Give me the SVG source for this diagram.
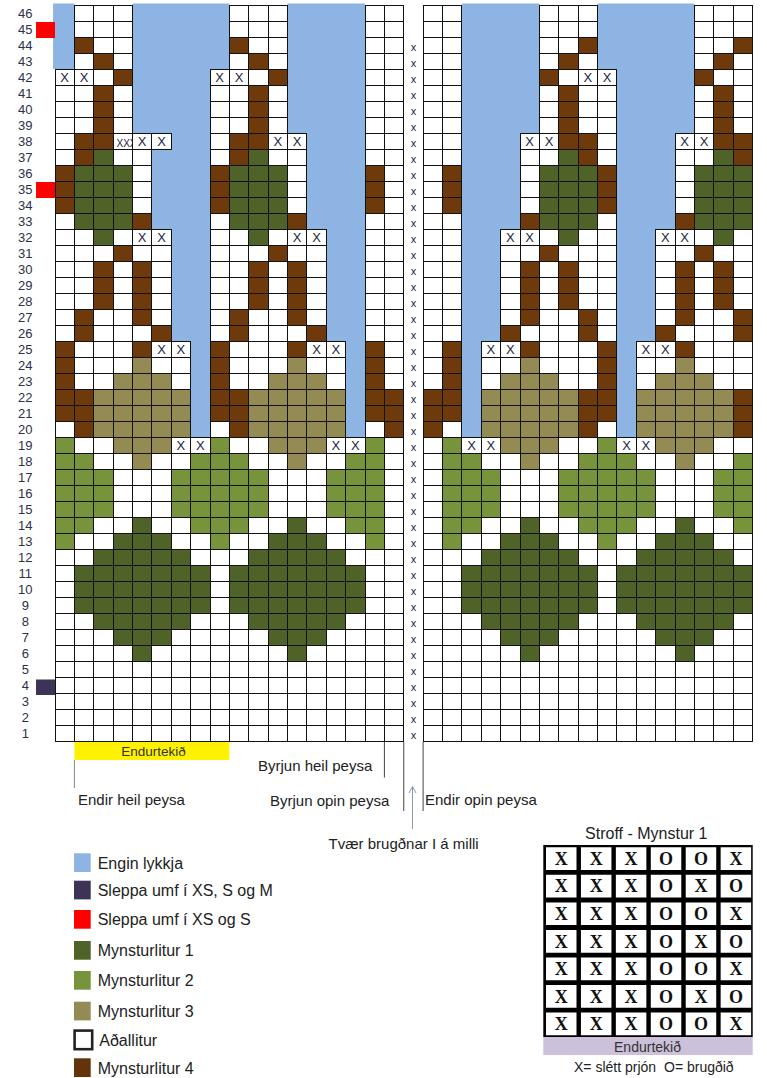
<svg xmlns="http://www.w3.org/2000/svg" width="767" height="1078" viewBox="0 0 767 1078">
<style>
text{font-family:"Liberation Sans",Arial,sans-serif}
.num{font-size:13px;fill:#2b3147;text-anchor:middle}
.xm{font-size:13px;fill:#1b2440;text-anchor:middle}
.gx{font-size:11px;fill:#1b2440;text-anchor:middle}
.lab{font-size:15px;fill:#222}
.leg{font-size:16px;fill:#222}
.st{font-family:"Liberation Serif",serif;font-weight:bold;font-size:18px;fill:#111;text-anchor:middle}
.ann{fill:none;stroke-width:1}
</style>
<defs>
<clipPath id="cx3"><rect x="113.1" y="133" width="19.4" height="16"/></clipPath>
</defs>
<rect width="767" height="1078" fill="#fff"/>
<g id="chart" transform="translate(55 5) scale(19.375 16)">
<rect x="0" y="0" width="18" height="46" fill="#fff"/>
<rect x="19" y="0" width="17" height="46" fill="#fff"/>
<path id="brown" fill="#6f3a0b" d="M1 2h1v1h-1zM9 2h1v1h-1zM35 2h1v1h-1zM27 2h1v1h-1zM2 3h1v1h-1zM10 3h1v1h-1zM34 3h1v1h-1zM26 3h1v1h-1zM3 4h1v1h-1zM11 4h1v1h-1zM33 4h1v1h-1zM25 4h1v1h-1zM2 5h1v4h-1zM10 5h1v4h-1zM34 5h1v4h-1zM26 5h1v4h-1zM1 8h1v2h-1zM9 8h1v2h-1zM35 8h1v2h-1zM27 8h1v2h-1zM0 10h1v3h-1zM8 10h1v3h-1zM16 10h1v3h-1zM28 10h1v3h-1zM20 10h1v3h-1zM4 13h1v1h-1zM12 13h1v1h-1zM32 13h1v1h-1zM24 13h1v1h-1zM3 15h1v1h-1zM11 15h1v1h-1zM33 15h1v1h-1zM25 15h1v1h-1zM2 16h1v3h-1zM10 16h1v3h-1zM34 16h1v3h-1zM26 16h1v3h-1zM4 16h1v4h-1zM12 16h1v4h-1zM32 16h1v4h-1zM24 16h1v4h-1zM1 19h1v2h-1zM9 19h1v2h-1zM35 19h1v2h-1zM27 19h1v2h-1zM5 20h1v1h-1zM13 20h1v1h-1zM31 20h1v1h-1zM23 20h1v1h-1zM4 21h1v1h-1zM12 21h1v1h-1zM32 21h1v1h-1zM24 21h1v1h-1zM0 21h1v5h-1zM8 21h1v5h-1zM16 21h1v5h-1zM28 21h1v5h-1zM20 21h1v5h-1zM1 24h1v3h-1zM9 24h1v3h-1zM17 24h1v3h-1zM27 24h1v3h-1zM35 24h1v3h-1zM19 24h1v3h-1z"/>
<path id="green1" fill="#4f6228" d="M1 10h3v4h-3zM9 10h3v4h-3zM25 10h3v4h-3zM33 10h3v4h-3zM2 9h1v1h-1zM10 9h1v1h-1zM26 9h1v1h-1zM34 9h1v1h-1zM2 14h1v1h-1zM10 14h1v1h-1zM26 14h1v1h-1zM34 14h1v1h-1zM4 32h1v1h1v1h1v1h1v3h-1v1h-1v1h-1v1h-1v-1h-1v-1h-1v-1h-1v-3h1v-1h1v-1h1zM12 32h1v1h1v1h1v1h1v3h-1v1h-1v1h-1v1h-1v-1h-1v-1h-1v-1h-1v-3h1v-1h1v-1h1zM24 32h1v1h1v1h1v1h1v3h-1v1h-1v1h-1v1h-1v-1h-1v-1h-1v-1h-1v-3h1v-1h1v-1h1zM32 32h1v1h1v1h1v1h1v3h-1v1h-1v1h-1v1h-1v-1h-1v-1h-1v-1h-1v-3h1v-1h1v-1h1z"/>
<path id="green2" fill="#77933c" d="M0 27h1v1h1v1h1v3h-1v1h-1v1h-1zM8 27h1v1h1v1h1v3h-1v1h-1v1h-1v-1h-1v-1h-1v-3h1v-1h1zM16 27h1v7h-1v-1h-1v-1h-1v-3h1v-1h1zM20 27h1v1h1v1h1v3h-1v1h-1v1h-1zM28 27h1v1h1v1h1v3h-1v1h-1v1h-1v-1h-1v-1h-1v-3h1v-1h1zM35 28h1v5h-1v-1h-1v-3h1z"/>
<path id="tan" fill="#948a54" d="M4 22h1v1h1v1h1v3h-1v1h-1v1h-1v-1h-1v-1h-1v-3h1v-1h1zM12 22h1v1h1v1h1v3h-1v1h-1v1h-1v-1h-1v-1h-1v-3h1v-1h1zM24 22h1v1h1v1h1v3h-1v1h-1v1h-1v-1h-1v-1h-1v-3h1v-1h1zM32 22h1v1h1v1h1v3h-1v1h-1v1h-1v-1h-1v-1h-1v-3h1v-1h1z"/>
<path id="grid" fill="none" stroke="#111" stroke-width="1" vector-effect="non-scaling-stroke" shape-rendering="crispEdges" d="M0 0V46M1 0V46M2 0V46M3 0V46M4 0V46M5 0V46M6 0V46M7 0V46M8 0V46M9 0V46M10 0V46M11 0V46M12 0V46M13 0V46M14 0V46M15 0V46M16 0V46M17 0V46M18 0V46M19 0V46M20 0V46M21 0V46M22 0V46M23 0V46M24 0V46M25 0V46M26 0V46M27 0V46M28 0V46M29 0V46M30 0V46M31 0V46M32 0V46M33 0V46M34 0V46M35 0V46M36 0V46M0 0H18M19 0H36M0 1H18M19 1H36M0 2H18M19 2H36M0 3H18M19 3H36M0 4H18M19 4H36M0 5H18M19 5H36M0 6H18M19 6H36M0 7H18M19 7H36M0 8H18M19 8H36M0 9H18M19 9H36M0 10H18M19 10H36M0 11H18M19 11H36M0 12H18M19 12H36M0 13H18M19 13H36M0 14H18M19 14H36M0 15H18M19 15H36M0 16H18M19 16H36M0 17H18M19 17H36M0 18H18M19 18H36M0 19H18M19 19H36M0 20H18M19 20H36M0 21H18M19 21H36M0 22H18M19 22H36M0 23H18M19 23H36M0 24H18M19 24H36M0 25H18M19 25H36M0 26H18M19 26H36M0 27H18M19 27H36M0 28H18M19 28H36M0 29H18M19 29H36M0 30H18M19 30H36M0 31H18M19 31H36M0 32H18M19 32H36M0 33H18M19 33H36M0 34H18M19 34H36M0 35H18M19 35H36M0 36H18M19 36H36M0 37H18M19 37H36M0 38H18M19 38H36M0 39H18M19 39H36M0 40H18M19 40H36M0 41H18M19 41H36M0 42H18M19 42H36M0 43H18M19 43H36M0 44H18M19 44H36M0 45H18M19 45H36M0 46H18M19 46H36"/>
<path id="blue" fill="#8db4e2" d="M-0.1 -0.1H1V4H-0.1zM4 -0.1H9V4H8V27H7V21H6V14H5V9H6V8H4zM12 -0.1H16V27H15V21H14V14H13V8H12zM21 -0.1H25V8H24V14H23V21H22V27H21zM28 -0.1H33V8H32V14H31V21H30V27H29V4H28z"/>
<path id="blue-edge" fill="none" stroke="#111" stroke-width="1" vector-effect="non-scaling-stroke" shape-rendering="crispEdges" d="M1 0V4H0M9 0V4H8V27H7V21H6V14H5V9H6V8H4V0M16 0V27H15V21H14V14H13V8H12V0M21 0V27H22V21H23V14H24V8H25V0M28 0V4H29V27H30V21H31V14H32V8H33V0"/>
</g>
<g id="chart-marks">
<text class="xm" x="64.7 84.1 219.7 239.1 587.8 607.2" y="81.6">XXXXXX</text>
<text class="xm" x="142.2 161.6 277.8 297.2 529.7 549.1 684.7 704.1" y="145.6">XXXXXXXX</text>
<text x="116.5" y="146.5" font-size="10" fill="#1b2440" clip-path="url(#cx3)">XXX</text>
<text class="xm" x="142.2 161.6 297.2 316.6 510.3 529.7 665.3 684.7" y="241.6">XXXXXXXX</text>
<text class="xm" x="161.6 180.9 316.6 335.9 490.9 510.3 645.9 665.3" y="353.6">XXXXXXXX</text>
<text class="xm" x="180.9 200.3 335.9 355.3 471.6 490.9 626.6 645.9" y="449.6">XXXXXXXX</text>
<text class="gx" x="413.4 413.4 413.4 413.4 413.4 413.4 413.4 413.4 413.4 413.4 413.4 413.4 413.4 413.4 413.4 413.4 413.4 413.4 413.4 413.4 413.4 413.4 413.4 413.4 413.4 413.4 413.4 413.4 413.4 413.4 413.4 413.4 413.4 413.4 413.4 413.4 413.4 413.4 413.4 413.4 413.4 413.4 413.4 413.4" y="51 67 83 99 115 131 147 163 179 195 211 227 243 259 275 291 307 323 339 355 371 387 403 419 435 451 467 483 499 515 531 547 563 579 595 611 627 643 659 675 691 707 723 739">xxxxxxxxxxxxxxxxxxxxxxxxxxxxxxxxxxxxxxxxxxxx</text>
</g>
<g id="size-markers">
<rect x="36" y="22" width="19" height="16" fill="#ff0000"/>
<rect x="36" y="182" width="19" height="16" fill="#ff0000"/>
<rect x="36" y="679.5" width="19" height="15.5" fill="#3d3356"/>
</g>
<g id="row-numbers">
<text class="num" x="25.3" y="17.5">46</text><text class="num" x="25.3" y="33.5">45</text><text class="num" x="25.3" y="49.5">44</text><text class="num" x="25.3" y="65.5">43</text><text class="num" x="25.3" y="81.5">42</text><text class="num" x="25.3" y="97.5">41</text><text class="num" x="25.3" y="113.5">40</text><text class="num" x="25.3" y="129.5">39</text><text class="num" x="25.3" y="145.5">38</text><text class="num" x="25.3" y="161.5">37</text><text class="num" x="25.3" y="177.5">36</text><text class="num" x="25.3" y="193.5">35</text><text class="num" x="25.3" y="209.5">34</text><text class="num" x="25.3" y="225.5">33</text><text class="num" x="25.3" y="241.5">32</text><text class="num" x="25.3" y="257.5">31</text><text class="num" x="25.3" y="273.5">30</text><text class="num" x="25.3" y="289.5">29</text><text class="num" x="25.3" y="305.5">28</text><text class="num" x="25.3" y="321.5">27</text><text class="num" x="25.3" y="337.5">26</text><text class="num" x="25.3" y="353.5">25</text><text class="num" x="25.3" y="369.5">24</text><text class="num" x="25.3" y="385.5">23</text><text class="num" x="25.3" y="401.5">22</text><text class="num" x="25.3" y="417.5">21</text><text class="num" x="25.3" y="433.5">20</text><text class="num" x="25.3" y="449.5">19</text><text class="num" x="25.3" y="465.5">18</text><text class="num" x="25.3" y="481.5">17</text><text class="num" x="25.3" y="497.5">16</text><text class="num" x="25.3" y="513.5">15</text><text class="num" x="25.3" y="529.5">14</text><text class="num" x="25.3" y="545.5">13</text><text class="num" x="25.3" y="561.5">12</text><text class="num" x="25.3" y="577.5">11</text><text class="num" x="25.3" y="593.5">10</text><text class="num" x="25.3" y="609.5">9</text><text class="num" x="25.3" y="625.5">8</text><text class="num" x="25.3" y="641.5">7</text><text class="num" x="25.3" y="657.5">6</text><text class="num" x="25.3" y="673.5">5</text><text class="num" x="25.3" y="689.5">4</text><text class="num" x="25.3" y="705.5">3</text><text class="num" x="25.3" y="721.5">2</text><text class="num" x="25.3" y="737.5">1</text>
</g>
<g id="annotations">
<rect x="74.4" y="742" width="155" height="18" fill="#fff200"/>
<text x="153.5" y="756" font-size="13.5" fill="#333" text-anchor="middle">Endurtekið</text>
<path class="ann" stroke="#888" d="M74.4 760V788"/>
<path class="ann" stroke="#444" d="M384.4 742V777.5M403.75 742V811M423.1 742V811"/>
<path class="ann" stroke="#8a96b4" d="M412.5 829V787M409 793L412.5 786.5L416 793"/>
<text class="lab" x="78" y="805">Endir heil peysa</text>
<text class="lab" x="258" y="770.5">Byrjun heil peysa</text>
<text class="lab" x="270" y="805.5">Byrjun opin peysa</text>
<text class="lab" x="425" y="805">Endir opin peysa</text>
<text class="lab" x="328.6" y="849" font-size="15.5">Tvær brugðnar I á milli</text>
</g>
<g id="legend">
<g id="leg-engin"><rect x="74" y="853.3" width="16.7" height="18.7" fill="#8db4e2"/><text class="leg" x="97.7" y="868.5">Engin lykkja</text></g>
<g id="leg-sleppa-xs-s-m"><rect x="74" y="880.7" width="16.7" height="18.7" fill="#3d3356"/><text class="leg" x="97.7" y="895.9">Sleppa umf í XS, S og M</text></g>
<g id="leg-sleppa-xs-s"><rect x="74" y="910" width="16.7" height="18.7" fill="#ff0000"/><text class="leg" x="97.7" y="925.2">Sleppa umf í XS og S</text></g>
<g id="leg-m1"><rect x="74" y="941" width="16.7" height="18.7" fill="#4f6228"/><text class="leg" x="97.7" y="956.2">Mynsturlitur 1</text></g>
<g id="leg-m2"><rect x="74" y="971" width="16.7" height="18.7" fill="#77933c"/><text class="leg" x="97.7" y="986.2">Mynsturlitur 2</text></g>
<g id="leg-m3"><rect x="74" y="1001.7" width="16.7" height="18.7" fill="#948a54"/><text class="leg" x="97.7" y="1016.9">Mynsturlitur 3</text></g>
<g id="leg-adal"><rect x="74.6" y="1030.6" width="17.6" height="18.6" fill="#fff" stroke="#222" stroke-width="2.6"/><text class="leg" x="99.3" y="1045.5">Aðallitur</text></g>
<g id="leg-m4"><rect x="74" y="1058.3" width="16.7" height="18.7" fill="#643309"/><text class="leg" x="97.7" y="1073.5">Mynsturlitur 4</text></g>
</g>
<g id="stroff">
<text x="646.3" y="839" font-size="16" fill="#222" text-anchor="middle">Stroff - Mynstur 1</text>
<rect x="543.3" y="845" width="209.4" height="192" fill="#000"/>
<path fill="#fff" d="M546 847.3h30.5v22.7h-30.5zm34.93 0h30.5v22.7h-30.5zm34.93 0h30.5v22.7h-30.5zm34.93 0h30.5v22.7h-30.5zm34.93 0h30.5v22.7h-30.5zm34.93 0h30.5v22.7h-30.5zM546 874.85h30.5v22.7h-30.5zm34.93 0h30.5v22.7h-30.5zm34.93 0h30.5v22.7h-30.5zm34.93 0h30.5v22.7h-30.5zm34.93 0h30.5v22.7h-30.5zm34.93 0h30.5v22.7h-30.5zM546 902.4h30.5v22.7h-30.5zm34.93 0h30.5v22.7h-30.5zm34.93 0h30.5v22.7h-30.5zm34.93 0h30.5v22.7h-30.5zm34.93 0h30.5v22.7h-30.5zm34.93 0h30.5v22.7h-30.5zM546 929.95h30.5v22.7h-30.5zm34.93 0h30.5v22.7h-30.5zm34.93 0h30.5v22.7h-30.5zm34.93 0h30.5v22.7h-30.5zm34.93 0h30.5v22.7h-30.5zm34.93 0h30.5v22.7h-30.5zM546 957.5h30.5v22.7h-30.5zm34.93 0h30.5v22.7h-30.5zm34.93 0h30.5v22.7h-30.5zm34.93 0h30.5v22.7h-30.5zm34.93 0h30.5v22.7h-30.5zm34.93 0h30.5v22.7h-30.5zM546 985.05h30.5v22.7h-30.5zm34.93 0h30.5v22.7h-30.5zm34.93 0h30.5v22.7h-30.5zm34.93 0h30.5v22.7h-30.5zm34.93 0h30.5v22.7h-30.5zm34.93 0h30.5v22.7h-30.5zM546 1012.6h30.5v22.7h-30.5zm34.93 0h30.5v22.7h-30.5zm34.93 0h30.5v22.7h-30.5zm34.93 0h30.5v22.7h-30.5zm34.93 0h30.5v22.7h-30.5zm34.93 0h30.5v22.7h-30.5z"/>
<text class="st" x="561.3 596.2 631.1 666 701 735.9" y="864.9">XXXOOX</text>
<text class="st" x="561.3 596.2 631.1 666 701 735.9" y="892.4">XXXOXO</text>
<text class="st" x="561.3 596.2 631.1 666 701 735.9" y="920">XXXOOX</text>
<text class="st" x="561.3 596.2 631.1 666 701 735.9" y="947.5">XXXOXO</text>
<text class="st" x="561.3 596.2 631.1 666 701 735.9" y="975.1">XXXOOX</text>
<text class="st" x="561.3 596.2 631.1 666 701 735.9" y="1002.6">XXXOXO</text>
<text class="st" x="561.3 596.2 631.1 666 701 735.9" y="1030.2">XXXOOX</text>
<rect x="543.3" y="1037" width="209.4" height="18" fill="#ccc0da"/>
<text x="647.5" y="1051.5" font-size="14" fill="#333" text-anchor="middle">Endurtekið</text>
<text x="574" y="1072" font-size="14" fill="#222">X= slétt prjón</text>
<text x="664" y="1072" font-size="14" fill="#222">O= brugðið</text>
</g>
</svg>
